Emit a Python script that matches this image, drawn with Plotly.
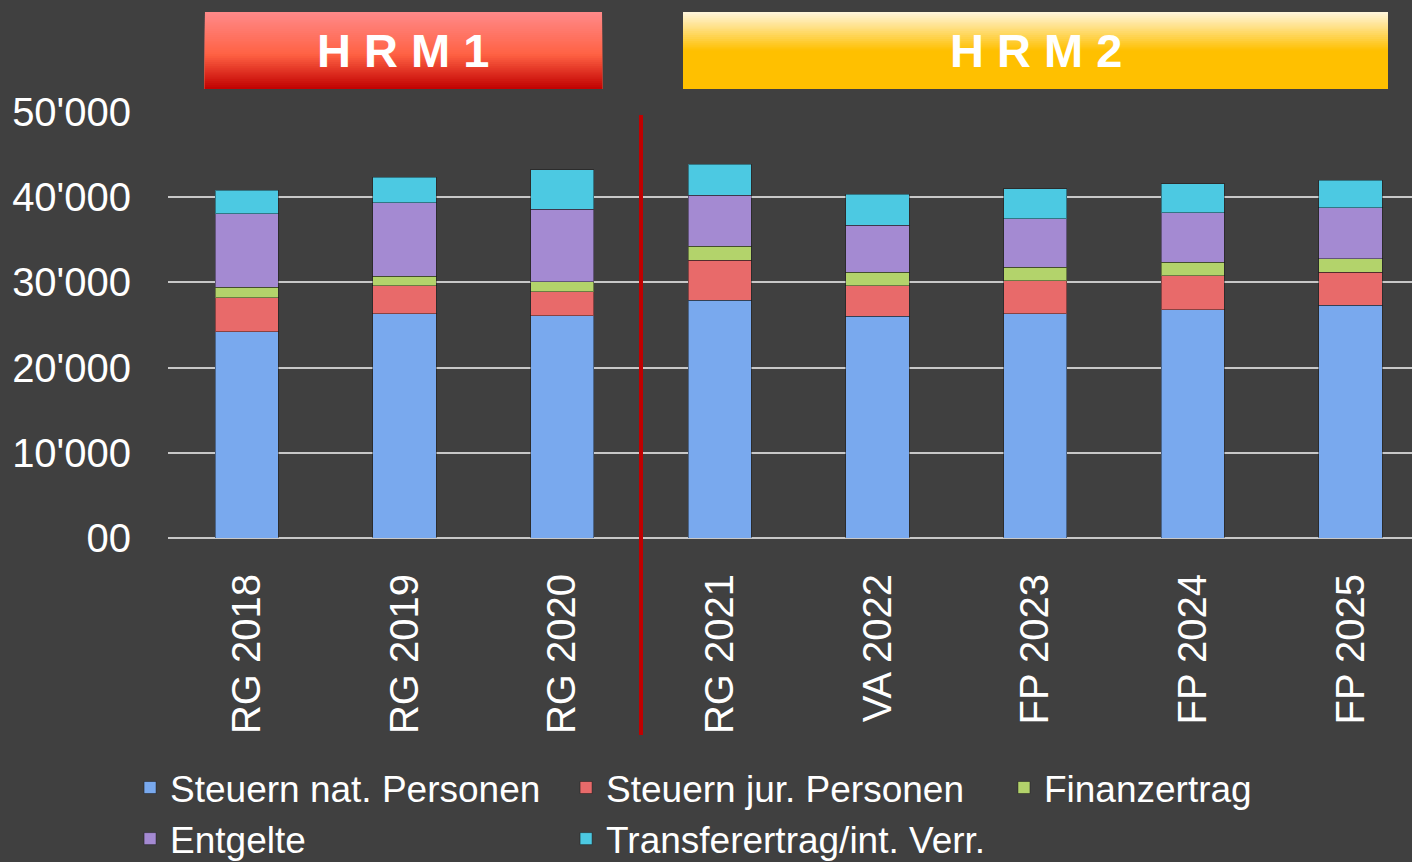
import plotly.graph_objects as go

# values in thousand CHF
categories = ["RG 2018", "RG 2019", "RG 2020", "RG 2021", "VA 2022", "FP 2023", "FP 2024", "FP 2025"]
steuern_nat = [24200, 26300, 26100, 27900, 26000, 26300, 26800, 27300]
steuern_jur = [4000, 3300, 2800, 4700, 3600, 3900, 4000, 3900]
finanzertrag = [1250, 1150, 1150, 1650, 1600, 1550, 1550, 1550]
entgelte = [8600, 8600, 8550, 6000, 5500, 5700, 5850, 6000]
transfer = [2750, 3000, 4600, 3600, 3650, 3550, 3350, 3250]

y_ticks = [0, 10000, 20000, 30000, 40000, 50000]
y_tick_text = ["00", "10'000", "20'000", "30'000", "40'000", "50'000"]

# (name, values, colour, legend column)
series = [
    ("Steuern nat. Personen", steuern_nat, "#79a9ee", "legend"),
    ("Steuern jur. Personen", steuern_jur, "#e86a6a", "legend2"),
    ("Finanzertrag", finanzertrag, "#b3d36b", "legend3"),
    ("Entgelte", entgelte, "#a48ad2", "legend"),
    ("Transferertrag/int. Verr.", transfer, "#4cc9e2", "legend2"),
]

BG = "#404040"
FONT = "Liberation Sans, Arial, sans-serif"

fig = go.Figure()
for name, vals, col, leg in series:
    fig.add_trace(go.Bar(
        x=categories, y=vals, name=name, legend=leg,
        marker=dict(color=col, line=dict(color="rgba(20,20,20,0.45)", width=1)),
    ))


def hex_rgb(h):
    h = h.lstrip("#")
    return tuple(int(h[i:i + 2], 16) for i in (0, 2, 4))


def gradient_box(x0, x1, y0, y1, stops, n=40):
    # stops: list of (pos from top 0..1, hex colour); each strip runs down to the
    # box bottom so the next one covers it -> no seams
    for i in range(n):
        t = (i + 0.5) / n
        for (p0, c0), (p1, c1) in zip(stops[:-1], stops[1:]):
            if p0 <= t <= p1:
                f = (t - p0) / (p1 - p0)
                a, b = hex_rgb(c0), hex_rgb(c1)
                rgb = tuple(round(a[k] + (b[k] - a[k]) * f) for k in range(3))
                break
        top = y1 - (y1 - y0) * i / n
        fig.add_shape(type="rect", xref="paper", yref="paper",
                      x0=x0, x1=x1, y0=y0, y1=top,
                      fillcolor="rgb(%d,%d,%d)" % rgb, line=dict(width=0), layer="above")


gradient_box(0.0297, 0.3489, 1.054, 1.2347,
             [(0, "#ff8a8a"), (0.55, "#ff6244"), (1, "#c00000")])
gradient_box(0.4140, 0.9807, 1.054, 1.2347,
             [(0, "#fff6de"), (0.5, "#ffc000"), (1, "#ffc000")])

fig.add_annotation(x=0.1893, y=1.1443, xref="paper", yref="paper", text="<b>H R M 1</b>",
                   xanchor="center", yanchor="middle",
                   showarrow=False, font=dict(family=FONT, size=47, color="white"))
fig.add_annotation(x=0.6974, y=1.1443, xref="paper", yref="paper", text="<b>H R M 2</b>",
                   xanchor="center", yanchor="middle",
                   showarrow=False, font=dict(family=FONT, size=47, color="white"))

# separator HRM1 / HRM2
fig.add_shape(type="line", xref="x", yref="paper", x0=2.5, x1=2.5, y0=-0.4624, y1=0.993,
              line=dict(color="#c00000", width=4), layer="above")

leg_style = dict(orientation="v", yanchor="top", xanchor="left", y=-0.514,
                 traceorder="normal", font=dict(size=37, color="white"),
                 bgcolor="rgba(0,0,0,0)", tracegroupgap=0)

fig.update_layout(
    width=1412, height=862,
    margin=dict(l=168, r=0, t=112, b=324, autoexpand=False),
    paper_bgcolor=BG, plot_bgcolor=BG,
    barmode="stack", bargap=0.6,
    font=dict(family=FONT, color="white"),
    showlegend=True,
    legend=dict(x=-0.0305, **leg_style),
    legend2=dict(x=0.32, **leg_style),
    legend3=dict(x=0.672, **leg_style),
    xaxis=dict(range=[-0.5, 7.39], tickangle=-90, showgrid=False, showline=False,
               tickfont=dict(size=40, color="white"), ticklabelstandoff=27),
    yaxis=dict(range=[0, 50000], tickvals=y_ticks, ticktext=y_tick_text,
               showgrid=True, gridcolor="#c8c8c8", gridwidth=2,
               zeroline=True, zerolinecolor="#c8c8c8", zerolinewidth=2,
               tickfont=dict(size=40, color="white"), ticklabelstandoff=36),
)

fig.write_html("out.html", config={"displayModeBar": False},
               post_script="document.body.style.margin='0';document.body.style.background='#404040';")
